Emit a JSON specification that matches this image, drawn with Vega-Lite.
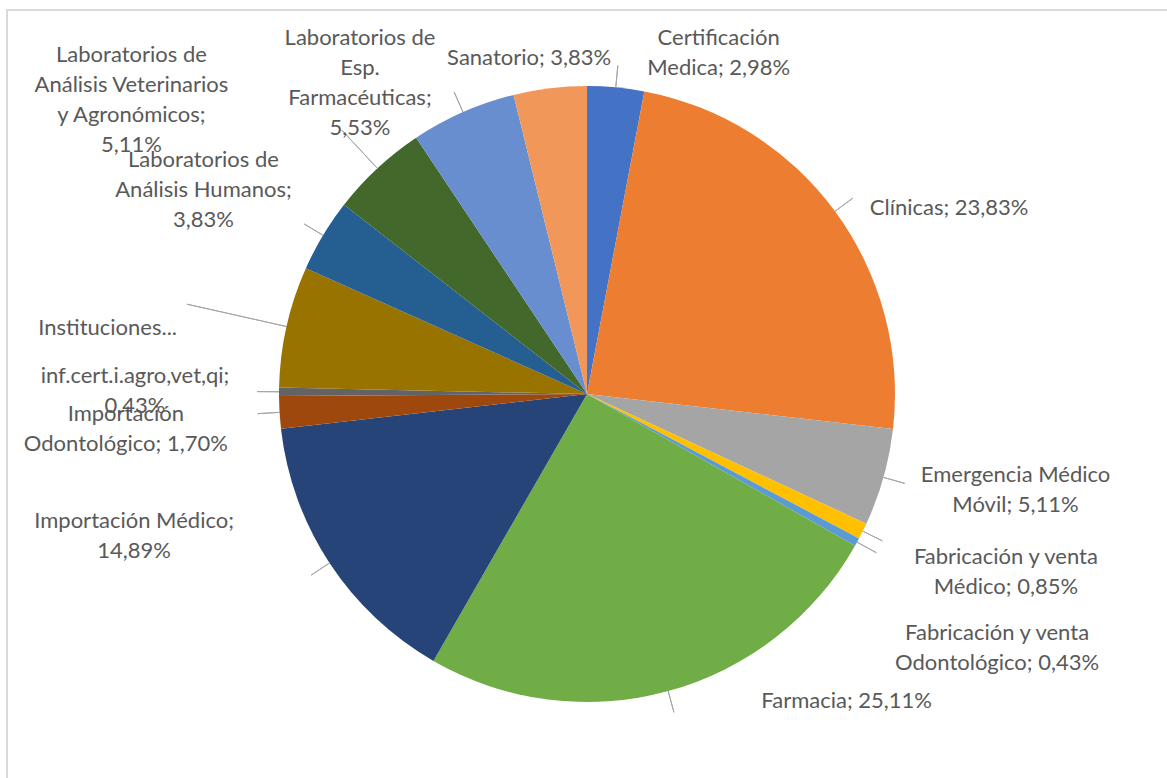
{
  "$schema": "https://vega.github.io/schema/vega-lite/v6.json",
  "width": 1160,
  "height": 768,
  "autosize": {"type": "none"},
  "padding": {"left": 7, "top": 10, "right": 0, "bottom": 0},
  "background": "#FFFFFF",
  "config": {"view": {"stroke": null}},
  "data": {"values": [
    {"orden": 1, "categoria": "Certificación Medica", "valor": 2.98, "etiqueta": "Certificación\nMedica; 2,98%"},
    {"orden": 2, "categoria": "Clínicas", "valor": 23.83, "etiqueta": "Clínicas; 23,83%"},
    {"orden": 3, "categoria": "Emergencia Médico Móvil", "valor": 5.11, "etiqueta": "Emergencia Médico\nMóvil; 5,11%"},
    {"orden": 4, "categoria": "Fabricación y venta Médico", "valor": 0.85, "etiqueta": "Fabricación y venta\nMédico; 0,85%"},
    {"orden": 5, "categoria": "Fabricación y venta Odontológico", "valor": 0.43, "etiqueta": "Fabricación y venta\nOdontológico; 0,43%"},
    {"orden": 6, "categoria": "Farmacia", "valor": 25.11, "etiqueta": "Farmacia; 25,11%"},
    {"orden": 7, "categoria": "Importación Médico", "valor": 14.89, "etiqueta": "Importación Médico;\n14,89%"},
    {"orden": 8, "categoria": "Importación Odontológico", "valor": 1.70, "etiqueta": "Importación\nOdontológico; 1,70%"},
    {"orden": 9, "categoria": "inf.cert.i.agro,vet,qi", "valor": 0.43, "etiqueta": "inf.cert.i.agro,vet,qi;\n0,43%"},
    {"orden": 10, "categoria": "Instituciones...", "valor": 6.37, "etiqueta": "Instituciones..."},
    {"orden": 11, "categoria": "Laboratorios de Análisis Humanos", "valor": 3.83, "etiqueta": "Laboratorios de\nAnálisis Humanos;\n3,83%"},
    {"orden": 12, "categoria": "Laboratorios de Análisis Veterinarios y Agronómicos", "valor": 5.11, "etiqueta": "Laboratorios de\nAnálisis Veterinarios\ny Agronómicos;\n5,11%"},
    {"orden": 13, "categoria": "Laboratorios de Esp. Farmacéuticas", "valor": 5.53, "etiqueta": "Laboratorios de\nEsp.\nFarmacéuticas;\n5,53%"},
    {"orden": 14, "categoria": "Sanatorio", "valor": 3.83, "etiqueta": "Sanatorio; 3,83%"}
  ]},
  "layer": [
    {
      "data": {"values": [{}]},
      "mark": {"type": "rect", "fill": "transparent", "stroke": "#D9D9D9", "strokeWidth": 2, "x2Offset": 6, "y2Offset": 6},
      "encoding": {"x": {"value": 0}, "x2": {"value": "width"}, "y": {"value": 0}, "y2": {"value": "height"}}
    },
    {
      "encoding": {
        "theta": {"field": "valor", "type": "quantitative", "stack": true},
        "order": {"field": "orden", "type": "quantitative"}
      },
      "layer": [
        {
          "mark": {"type": "arc", "radius": 308},
          "encoding": {
            "color": {
              "field": "categoria", "type": "nominal", "legend": null,
              "scale": {
                "domain": ["Certificación Medica", "Clínicas", "Emergencia Médico Móvil", "Fabricación y venta Médico", "Fabricación y venta Odontológico", "Farmacia", "Importación Médico", "Importación Odontológico", "inf.cert.i.agro,vet,qi", "Instituciones...", "Laboratorios de Análisis Humanos", "Laboratorios de Análisis Veterinarios y Agronómicos", "Laboratorios de Esp. Farmacéuticas", "Sanatorio"],
                "range": ["#4472C4", "#ED7D31", "#A5A5A5", "#FFC000", "#5B9BD5", "#70AD47", "#264478", "#9E480E", "#636363", "#997300", "#255E91", "#43682B", "#698ED0", "#F1975A"]
              }
            }
          }
        },
        {
          "mark": {"type": "arc", "radius": 330, "radius2": 308, "padAngle": 3, "fillOpacity": 0, "strokeWidth": 1},
          "encoding": {"stroke": {"condition": {"test": "datum.orden <= 9 || datum.orden === 11 || datum.orden === 13", "value": "#A6A6A6"}, "value": "transparent"}}
        },
        {
          "mark": {"type": "arc", "radius": 360, "radius2": 308, "padAngle": 3, "fillOpacity": 0, "strokeWidth": 1},
          "encoding": {"stroke": {"condition": {"test": "datum.orden === 12", "value": "#A6A6A6"}, "value": "transparent"}}
        },
        {
          "mark": {"type": "arc", "radius": 410, "radius2": 308, "padAngle": 3, "fillOpacity": 0, "strokeWidth": 1},
          "encoding": {"stroke": {"condition": {"test": "datum.orden === 10", "value": "#A6A6A6"}, "value": "transparent"}}
        },
        {"mark": {"type": "text", "radius": 350, "dx": 99, "dy": -8, "align": "center", "baseline": "middle", "lineBreak": "\n", "lineHeight": 30, "font": "Lato", "fontSize": 22, "fill": "#595959"},
         "encoding": {"text": {"condition": {"test": "datum.orden === 1", "field": "etiqueta"}, "value": ""}}},
        {"mark": {"type": "text", "radius": 340, "dx": 9, "dy": 16, "align": "left", "baseline": "middle", "lineBreak": "\n", "lineHeight": 30, "font": "Lato", "fontSize": 22, "fill": "#595959"},
         "encoding": {"text": {"condition": {"test": "datum.orden === 2", "field": "etiqueta"}, "value": ""}}},
        {"mark": {"type": "text", "radius": 440, "dx": 5, "dy": -38, "align": "center", "baseline": "middle", "lineBreak": "\n", "lineHeight": 30, "font": "Lato", "fontSize": 22, "fill": "#595959"},
         "encoding": {"text": {"condition": {"test": "datum.orden === 3", "field": "etiqueta"}, "value": ""}}},
        {"mark": {"type": "text", "radius": 450, "dx": 16, "dy": -37, "align": "center", "baseline": "middle", "lineBreak": "\n", "lineHeight": 30, "font": "Lato", "fontSize": 22, "fill": "#595959"},
         "encoding": {"text": {"condition": {"test": "datum.orden === 4", "field": "etiqueta"}, "value": ""}}},
        {"mark": {"type": "text", "radius": 470, "dx": -2, "dy": 13, "align": "center", "baseline": "middle", "lineBreak": "\n", "lineHeight": 30, "font": "Lato", "fontSize": 22, "fill": "#595959"},
         "encoding": {"text": {"condition": {"test": "datum.orden === 5", "field": "etiqueta"}, "value": ""}}},
        {"mark": {"type": "text", "radius": 320, "dx": 90, "dy": -2, "align": "left", "baseline": "middle", "lineBreak": "\n", "lineHeight": 30, "font": "Lato", "fontSize": 22, "fill": "#595959"},
         "encoding": {"text": {"condition": {"test": "datum.orden === 6", "field": "etiqueta"}, "value": ""}}},
        {"mark": {"type": "text", "radius": 470, "dx": -60, "dy": -131, "align": "center", "baseline": "middle", "lineBreak": "\n", "lineHeight": 30, "font": "Lato", "fontSize": 22, "fill": "#595959"},
         "encoding": {"text": {"condition": {"test": "datum.orden === 7", "field": "etiqueta"}, "value": ""}}},
        {"mark": {"type": "text", "radius": 462, "dx": 0, "dy": -8, "align": "center", "baseline": "middle", "lineBreak": "\n", "lineHeight": 30, "font": "Lato", "fontSize": 22, "fill": "#595959"},
         "encoding": {"text": {"condition": {"test": "datum.orden === 8", "field": "etiqueta"}, "value": ""}}},
        {"mark": {"type": "text", "radius": 452, "dx": 0, "dy": -15, "align": "center", "baseline": "middle", "lineBreak": "\n", "lineHeight": 30, "font": "Lato", "fontSize": 22, "fill": "#595959"},
         "encoding": {"text": {"condition": {"test": "datum.orden === 9", "field": "etiqueta"}, "value": ""}}},
        {"mark": {"type": "text", "radius": 480, "dx": -11, "dy": 39, "align": "center", "baseline": "middle", "lineBreak": "\n", "lineHeight": 30, "font": "Lato", "fontSize": 22, "fill": "#595959"},
         "encoding": {"text": {"condition": {"test": "datum.orden === 10", "field": "etiqueta"}, "value": ""}}},
        {"mark": {"type": "text", "radius": 430, "dx": -15, "dy": -12, "align": "center", "baseline": "middle", "lineBreak": "\n", "lineHeight": 30, "font": "Lato", "fontSize": 22, "fill": "#595959"},
         "encoding": {"text": {"condition": {"test": "datum.orden === 11", "field": "etiqueta"}, "value": ""}}},
        {"mark": {"type": "text", "radius": 540, "dx": -88, "dy": 57, "align": "center", "baseline": "middle", "lineBreak": "\n", "lineHeight": 30, "font": "Lato", "fontSize": 22, "fill": "#595959"},
         "encoding": {"text": {"condition": {"test": "datum.orden === 12", "field": "etiqueta"}, "value": ""}}},
        {"mark": {"type": "text", "radius": 385, "dx": -72, "dy": -4, "align": "center", "baseline": "middle", "lineBreak": "\n", "lineHeight": 30, "font": "Lato", "fontSize": 22, "fill": "#595959"},
         "encoding": {"text": {"condition": {"test": "datum.orden === 13", "field": "etiqueta"}, "value": ""}}},
        {"mark": {"type": "text", "radius": 340, "dx": -17, "dy": 2, "align": "center", "baseline": "middle", "lineBreak": "\n", "lineHeight": 30, "font": "Lato", "fontSize": 22, "fill": "#595959"},
         "encoding": {"text": {"condition": {"test": "datum.orden === 14", "field": "etiqueta"}, "value": ""}}}
      ]
    }
  ]
}
